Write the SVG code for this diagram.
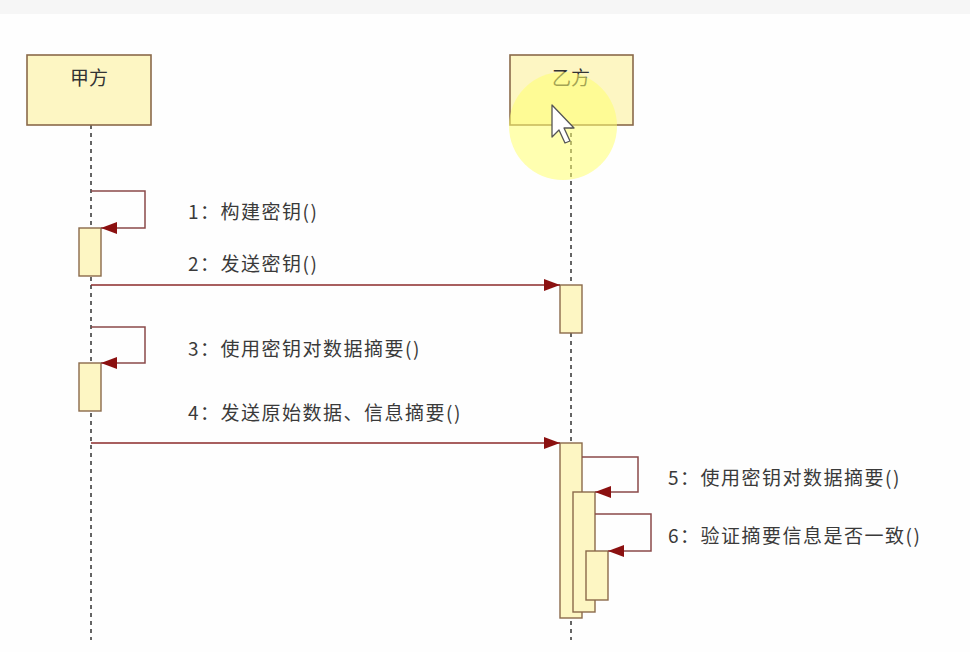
<svg xmlns="http://www.w3.org/2000/svg" width="970" height="652" viewBox="0 0 970 652">
<defs>
<style>
.actor{fill:#fdf6c3;stroke:#8a6a4a;stroke-width:1.6}
.act{fill:#fdf6c3;stroke:#8a6a4a;stroke-width:1.4}
.life{stroke:#333;stroke-width:1.5;stroke-dasharray:4 4;fill:none}
.msg{stroke:#8b2a2a;stroke-width:1.5;fill:none}
.self{stroke:#8b4a4a;stroke-width:1.5;fill:none}
.lbl{font-family:"Noto Sans CJK SC","Noto Sans",sans-serif;font-size:19px;letter-spacing:1.5px;fill:#3a3a3a}
.name{font-family:"Noto Sans CJK SC","Noto Sans",sans-serif;font-size:19px;fill:#333;text-anchor:middle}
</style>
<marker id="ah" viewBox="0 0 16 12" refX="16" refY="6" markerWidth="16" markerHeight="12" markerUnits="userSpaceOnUse" orient="auto">
<path d="M0,0 L16,6 L0,12 Z" fill="#8b1010"/>
</marker>
</defs>
<rect x="0" y="0" width="970" height="652" fill="#fefefe"/>
<rect x="0" y="0" width="970" height="14" fill="#f6f6f6"/>

<g id="lifelines">
<line class="life" x1="91" y1="125" x2="91" y2="640"/>
<line class="life" x1="571" y1="125" x2="571" y2="640"/>
</g>

<g id="jiafang">
<rect class="actor" x="27" y="55" width="124" height="70"/>
<text class="name" x="89" y="85">甲方</text>
</g>
<g id="yifang">
<rect class="actor" x="510" y="55" width="123" height="70"/>
<text class="name" x="571" y="85">乙方</text>
</g>

<g id="activations">
<rect class="act" x="79" y="228" width="22" height="48"/>
<rect class="act" x="560" y="285" width="22" height="48"/>
<rect class="act" x="79" y="363" width="22" height="48"/>
<rect class="act" x="560" y="443" width="22" height="175"/>
<rect class="act" x="573" y="492" width="22" height="120"/>
<rect class="act" x="586" y="551" width="22" height="49"/>
</g>

<g id="connectors">
<polyline class="self" points="91,191 145,191 145,228 101,228" marker-end="url(#ah)"/>
<line class="msg" x1="91" y1="285" x2="560" y2="285" marker-end="url(#ah)"/>
<polyline class="self" points="91,327 145,327 145,363 101,363" marker-end="url(#ah)"/>
<line class="msg" x1="91" y1="443" x2="560" y2="443" marker-end="url(#ah)"/>
<polyline class="self" points="582,457 638,457 638,492 595,492" marker-end="url(#ah)"/>
<polyline class="self" points="595,514 651,514 651,551 608,551" marker-end="url(#ah)"/>
</g>

<g id="labels">
<text class="lbl" x="188" y="219">1：构建密钥()</text>
<text class="lbl" x="188" y="271">2：发送密钥()</text>
<text class="lbl" x="188" y="356">3：使用密钥对数据摘要()</text>
<text class="lbl" x="188" y="420">4：发送原始数据、信息摘要()</text>
<text class="lbl" x="668" y="485">5：使用密钥对数据摘要()</text>
<text class="lbl" x="668" y="543">6：验证摘要信息是否一致()</text>
</g>

<g id="cursor-highlight">
<circle cx="563" cy="126" r="54" fill="#ffff70" fill-opacity="0.55"/>
<polygon points="552,105 552,137 559,130 565,143 570,141 564,128 574,128" fill="#fff" stroke="#555" stroke-width="1.3" stroke-linejoin="round"/>
</g>
</svg>
